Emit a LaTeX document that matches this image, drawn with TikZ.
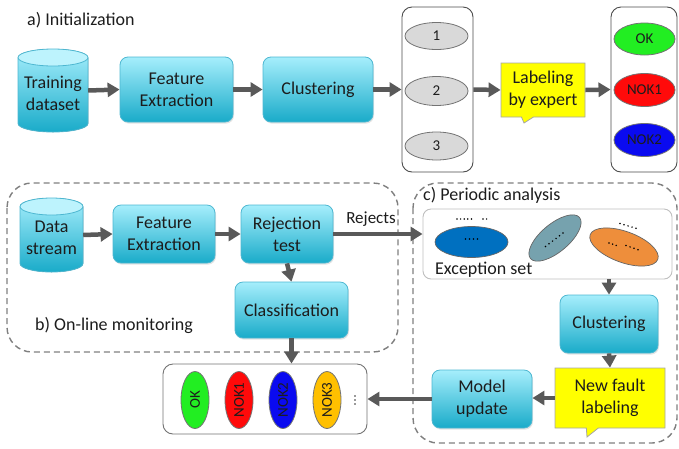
\documentclass[tikz,border=0pt]{standalone}
\usepackage{fontspec}
\setmainfont{Carlito}
\usetikzlibrary{arrows.meta,shapes.geometric,shapes.callouts,shadows}
\definecolor{boxtop}{HTML}{A6EEFC}
\definecolor{boxbot}{HTML}{19ABC9}
\definecolor{boxedge}{HTML}{4DB7D1}
\definecolor{cyltop}{HTML}{BDF3FD}
\definecolor{arr}{HTML}{595959}
\definecolor{dashc}{HTML}{7F7F7F}
\definecolor{txt}{HTML}{1C1C1C}
\definecolor{ellgray}{HTML}{D9D9D9}
\definecolor{okgreen}{HTML}{22EE22}
\definecolor{nokred}{HTML}{FF0A0A}
\definecolor{nokblue}{HTML}{0A0AF0}
\definecolor{nokorange}{HTML}{FFC000}
\definecolor{exblue}{HTML}{0070C0}
\definecolor{exteal}{HTML}{76A2AE}
\definecolor{exorange}{HTML}{EE8E3B}
\definecolor{calloutyellow}{HTML}{FFFF00}
\newcommand\mycyl[5]{%
  \pgfmathsetmacro\cylcx{(#1+#2)/2}%
  \pgfmathsetmacro\cylrx{(#2-#1)/2}%
  \fill[top color=boxtop,bottom color=boxbot] (#1,-#3-#5) -- (#1,-#4+#5)
    arc[start angle=180,end angle=360,x radius=\cylrx pt,y radius=#5 pt]
    -- (#2,-#3-#5)
    arc[start angle=0,end angle=180,x radius=\cylrx pt,y radius=#5 pt] -- cycle;
  \draw[draw=boxedge,line width=0.8pt] (#1,-#3-#5) -- (#1,-#4+#5)
    arc[start angle=180,end angle=360,x radius=\cylrx pt,y radius=#5 pt]
    -- (#2,-#3-#5);
  \filldraw[fill=cyltop,draw=boxedge,line width=0.8pt] (\cylcx,-#3-#5)
    ellipse[x radius=\cylrx pt,y radius=#5 pt];
}
\begin{document}
\begin{tikzpicture}[x=1pt,y=1pt,
  procbox/.style={rectangle,rounded corners=8pt,draw=boxedge,line width=0.8pt,
    top color=boxtop,bottom color=boxbot,align=center,text=txt,inner sep=0pt,
    font=\fontsize{18}{22}\selectfont,
    drop shadow={opacity=0.22,shadow xshift=1pt,shadow yshift=-1.6pt}},
  cyltext/.style={align=center,text=txt,inner sep=0pt,font=\fontsize{18}{22}\selectfont},
  flow/.style={draw=arr,line width=4.5pt,-{Triangle[length=12pt,width=14pt]}},
  container/.style={rectangle,rounded corners=10pt,draw=black!70,line width=0.9pt,fill=white,inner sep=0pt},
  dashbox/.style={draw=dashc,line width=1.4pt,dash pattern=on 6pt off 4pt,rounded corners=25pt},
  clell/.style={ellipse,draw=black!55,line width=0.8pt,inner sep=0pt,text=txt,
    font=\fontsize{15}{18}\selectfont},
  labelcallout/.style={rectangle callout,fill=calloutyellow,draw=black!35,line width=0.8pt,
    align=center,text=txt,inner sep=0pt,font=\fontsize{18}{22}\selectfont,
    callout pointer width=12pt},
  title/.style={anchor=west,inner sep=0pt,text=txt,font=\fontsize{18}{22}\selectfont},
  exell/.style={ellipse,draw=black!60,line width=0.7pt,inner sep=0pt},
  dotc/.style={fill=black}
]
\useasboundingbox (0,0) rectangle (679,-448);

% ---------------- a) Initialization
\node[title] (ta) at (27,-20) {a) Initialization};
\mycyl{18}{88}{49}{132}{8.5}
\node[minimum width=70pt,minimum height=83pt,inner sep=0pt] (train) at (53,-90.5) {};
\node[cyltext] (trainlbl) at (53,-93.5) {Training\\dataset};
\node[procbox,minimum width=113pt,minimum height=65pt] (fe1) at (176.5,-89.5) {Feature\\Extraction};
\node[procbox,minimum width=110pt,minimum height=65pt] (clu1) at (318,-89.5) {Clustering};
\node[container,minimum width=71pt,minimum height=165pt] (cont1) at (437.5,-89.5) {};
\node[clell,fill=ellgray,minimum width=63pt,minimum height=27pt] (e1) at (436.5,-36) {1};
\node[clell,fill=ellgray,minimum width=63pt,minimum height=29pt] (e2) at (436.5,-91) {2};
\node[clell,fill=ellgray,minimum width=63pt,minimum height=28pt] (e3) at (436.5,-146) {3};
\node[labelcallout,minimum width=84pt,minimum height=54pt,
  callout absolute pointer={(524,-123)}] (lab1) at (543,-90) {Labeling\\by expert};
\node[container,minimum width=66pt,minimum height=165pt] (cont2) at (644,-89.5) {};
\node[clell,fill=okgreen,minimum width=61pt,minimum height=32pt] (ok1) at (644.5,-39) {OK};
\node[clell,fill=nokred,minimum width=61pt,minimum height=33pt] (nok1a) at (644.5,-90) {NOK1};
\node[clell,fill=nokblue,minimum width=61pt,minimum height=33pt] (nok2a) at (644.5,-140) {NOK2};

\draw[flow] (train.east) -- (fe1.west);
\draw[flow] (fe1.east) -- (clu1.west);
\draw[flow] (clu1.east) -- (cont1.west);
\draw[flow] (cont1.east) -- (lab1.west);
\draw[flow] (lab1.east) -- (cont2.west);

% ---------------- b) On-line monitoring
\draw[dashbox] (7,-183) rectangle (398,-352);
\mycyl{20}{83}{198}{272}{8.5}
\node[minimum width=63pt,minimum height=74pt,inner sep=0pt] (data) at (51.5,-235) {};
\node[cyltext] (datalbl) at (51.5,-238) {Data\\stream};
\node[procbox,minimum width=102pt,minimum height=58pt] (fe2) at (164,-234) {Feature\\Extraction};
\node[procbox,minimum width=92pt,minimum height=58pt] (rej) at (287,-234) {Rejection\\test};
\node[procbox,minimum width=113pt,minimum height=56pt] (cls) at (291.5,-310) {Classification};
\node[title] (tb) at (35,-325) {b) On-line monitoring};
\node[inner sep=0pt,text=txt,font=\fontsize{17}{20}\selectfont] (rejlbl) at (371,-219) {Rejects};

% results container
\node[container,draw=black!55,minimum width=204pt,minimum height=70pt] (res) at (265,-399) {};
\node[clell,fill=okgreen,rotate=90,minimum width=57pt,minimum height=28pt] (rok) at (195,-400) {OK};
\node[clell,fill=nokred,rotate=90,minimum width=57pt,minimum height=28pt] (rn1) at (239,-400) {NOK1};
\node[clell,fill=nokblue,rotate=90,minimum width=57pt,minimum height=28pt] (rn2) at (283,-400) {NOK2};
\node[clell,fill=nokorange,rotate=90,minimum width=57pt,minimum height=28pt] (rn3) at (327,-400) {NOK3};
\foreach \j in {0,1,2} \fill[black!80] (355,-396-4*\j) circle (0.9pt);

\draw[flow] (data.east) -- (fe2.west);
\draw[flow] (fe2.east) -- (rej.west);
\draw[flow] (rej.south) -- (cls.north);
\draw[flow] (cls.south) -- (cls.south |- res.north);

% ---------------- c) Periodic analysis
\draw[dashbox] (413,-183) rectangle (677,-443);
\node[title] (tc) at (423,-195) {c) Periodic analysis};
\node[rectangle,rounded corners=8pt,draw=black!25,line width=0.9pt,fill=white,
  minimum width=249pt,minimum height=70pt,inner sep=0pt] (exc) at (547.5,-244) {};
\node[exell,fill=exblue,minimum width=73pt,minimum height=31pt] (exb) at (471.5,-242) {};
\node[exell,fill=exteal,rotate=40,minimum width=64pt,minimum height=28pt] (ext) at (555,-238) {};
\node[exell,fill=exorange,rotate=-20,minimum width=72pt,minimum height=31pt] (exo) at (624,-247) {};
\node[title] (exlbl) at (435,-270) {Exception set};
% dots
\foreach \i in {0,...,4} \fill[dotc] (457+3.6*\i,-219) circle (0.85pt);
\foreach \i in {0,1} \fill[dotc] (483+3.6*\i,-219) circle (0.85pt);
\foreach \i in {0,...,3} \fill[dotc] (465.5+4*\i,-239) circle (0.85pt);
\foreach \i in {0,...,5} \fill[dotc] (545.5+3.5*\i,-246.5+2.7*\i) circle (0.85pt);
\foreach \i in {0,...,4} \fill[dotc] (620+4*\i,-223.5-1.2*\i) circle (0.85pt);
\foreach \i in {0,...,2} \fill[dotc] (609+3.6*\i,-243-1.2*\i) circle (0.85pt);
\foreach \i in {0,...,3} \fill[dotc] (626+4*\i,-245.5-1.4*\i) circle (0.85pt);

\node[procbox,minimum width=98pt,minimum height=58pt] (clu2) at (609,-324) {Clustering};
\node[labelcallout,minimum width=110pt,minimum height=60pt,
  callout absolute pointer={(587,-437)}] (nfl) at (610,-398) {New fault\\labeling};
\node[procbox,minimum width=100pt,minimum height=58pt] (mod) at (482,-399) {Model\\update};

\draw[flow] (rej.east) -- (rej.east -| exc.west);
\draw[flow] (exc.south -| clu2) -- (clu2.north);
\draw[flow] (clu2.south) -- (nfl.north);
\draw[flow] (nfl.west) -- (nfl.west -| mod.east);
\draw[flow] (mod.west) -- (mod.west -| res.east);
\end{tikzpicture}
\end{document}
